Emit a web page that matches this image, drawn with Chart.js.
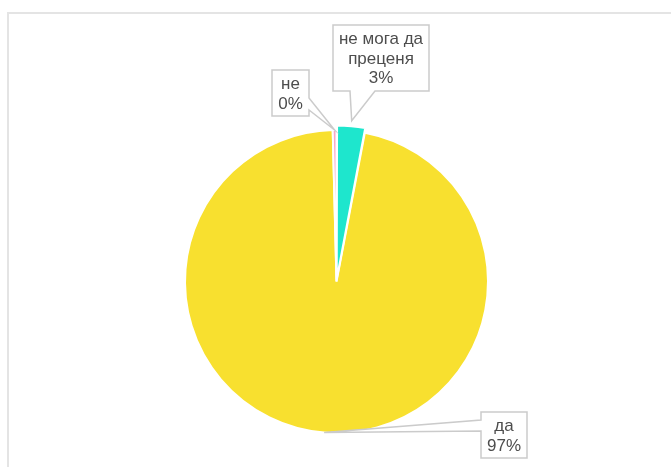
<!DOCTYPE html>
<html>
<head>
<meta charset="utf-8">
<script src="https://cdn.jsdelivr.net/npm/chart.js@4"></script>
<style>
  html, body { margin: 0; padding: 0; background: #fff; }
  #wrap { position: relative; width: 671px; height: 467px; overflow: hidden; }
  #frame {
    position: absolute; left: 7px; top: 12px; width: 700px; height: 500px;
    border-left: 2px solid #e4e4e4; border-top: 2px solid #e4e4e4;
  }
  canvas { position: absolute; left: 0; top: 0; }
</style>
</head>
<body>
<div id="wrap">
  <div id="frame"></div>
  <canvas id="chart" width="671" height="467"></canvas>
</div>
<script>
const labels = ["да", "не", "не мога да преценя"];
const values = [96.6, 0.4, 3.0];
const colors = ["#f8e02f", "#f7a9c8", "#1ee6cd"];

// where each callout box sits and where its tail leaves the box
const callouts = [
    { x: 481, y: 412, side: "left", a: 8, b: 19 },
    { x: 272, y: 70, side: "right", a: 28, b: 40 },
    { x: 333, y: 25, side: "bottom", a: 17, b: 42 }
];

const calloutPlugin = {
    id: "callouts",
    afterDraw(chart) {
        const ctx = chart.ctx;
        const meta = chart.getDatasetMeta(0);
        const total = values.reduce((s, v) => s + v, 0);
        ctx.save();
        ctx.font = "17px 'Liberation Sans', Arial, sans-serif";
        meta.data.forEach((arc, i) => {
            const c = callouts[i];
            const p = arc.getProps(["x", "y", "startAngle", "endAngle", "outerRadius"], true);
            const mid = (p.startAngle + p.endAngle) / 2;
            const r = p.outerRadius + (arc.options.offset || 0);
            const tipX = p.x + Math.cos(mid) * r;
            const tipY = p.y + Math.sin(mid) * r;

            // wrap the label
            const words = labels[i].split(" ");
            const lines = [];
            let cur = "";
            words.forEach(w => {
                const t = cur ? cur + " " + w : w;
                if (ctx.measureText(t).width > 95 && cur) { lines.push(cur); cur = w; }
                else cur = t;
            });
            lines.push(cur);
            lines.push(Math.round(values[i] / total * 100) + "%");

            const lh = 19.5;
            const tw = Math.max(...lines.map(l => ctx.measureText(l).width));
            const w = Math.round(tw + 12);
            const h = Math.round(lines.length * lh + 7);
            const x0 = c.x, y0 = c.y, x1 = c.x + w, y1 = c.y + h;

            ctx.beginPath();
            ctx.moveTo(x0, y0);
            ctx.lineTo(x1, y0);
            if (c.side === "right") {
                ctx.lineTo(x1, y0 + c.a); ctx.lineTo(tipX, tipY); ctx.lineTo(x1, y0 + c.b);
            }
            ctx.lineTo(x1, y1);
            if (c.side === "bottom") {
                ctx.lineTo(x0 + c.b, y1); ctx.lineTo(tipX, tipY); ctx.lineTo(x0 + c.a, y1);
            }
            ctx.lineTo(x0, y1);
            if (c.side === "left") {
                ctx.lineTo(x0, y0 + c.b); ctx.lineTo(tipX, tipY); ctx.lineTo(x0, y0 + c.a);
            }
            ctx.closePath();
            ctx.fillStyle = "#fff";
            ctx.fill();
            ctx.lineWidth = 1.5;
            ctx.strokeStyle = "#cbcbcb";
            ctx.stroke();

            ctx.fillStyle = "#4d4d4d";
            ctx.textAlign = "center";
            ctx.textBaseline = "middle";
            lines.forEach((l, k) => {
                ctx.fillText(l, (x0 + x1) / 2, y0 + 4 + lh / 2 + k * lh + 1);
            });
        });
        ctx.restore();
    }
};

new Chart(document.getElementById("chart").getContext("2d"), {
    type: "pie",
    data: {
        labels: labels,
        datasets: [{
            data: values,
            backgroundColor: colors,
            borderColor: "#fff",
            borderWidth: 2,
            offset: [0, 0, 10]
        }]
    },
    options: {
        responsive: false,
        animation: false,
        rotation: 10.8,
        layout: {
            padding: { top: 124, bottom: 28, left: 100, right: 98 }
        },
        plugins: {
            legend: { display: false },
            tooltip: { enabled: false }
        }
    },
    plugins: [calloutPlugin]
});
</script>
</body>
</html>
